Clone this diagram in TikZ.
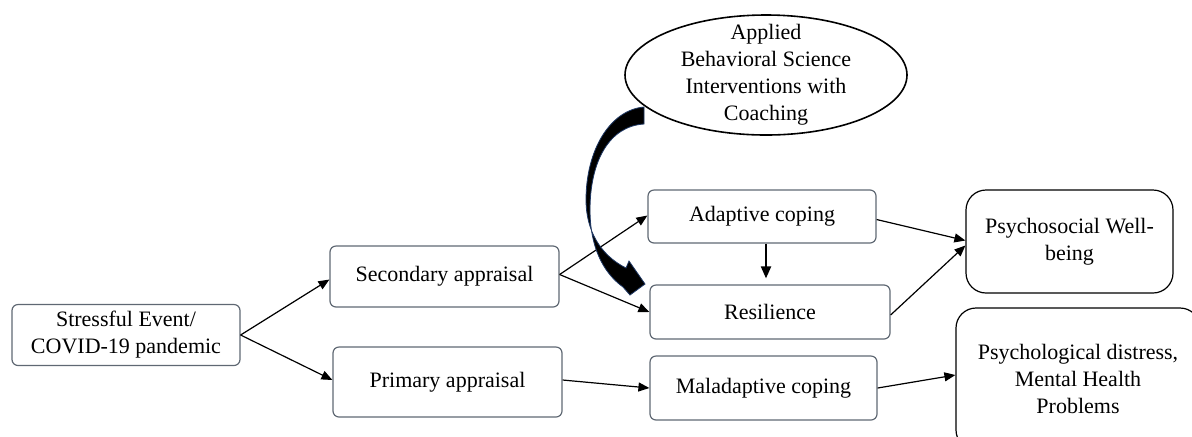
\documentclass[tikz,border=0pt]{standalone}
\usepackage{fontspec}
\setmainfont{Liberation Serif}
\usetikzlibrary{shapes.geometric,arrows.meta}
\definecolor{boxgray}{HTML}{5F6873}
\definecolor{navy}{HTML}{1F3864}
\tikzset{
  smallbox/.style={draw=boxgray, line width=0.6pt, rounded corners=3pt, inner sep=0pt, align=center},
  bigbox/.style={draw=black, line width=0.6pt, rounded corners=10pt, inner sep=0pt, align=center},
  conn/.style={line width=0.6pt, -{Triangle[length=5.5pt,width=4.5pt]}},
}
\begin{document}
\begin{tikzpicture}[x=0.5pt,y=-0.5pt,font=\fontsize{11}{13.5}\selectfont]
\useasboundingbox (0,0) rectangle (1192,436);
\clip (0,0) rectangle (1192,436);
% nodes
\node[smallbox, minimum width=114pt, minimum height=30.5pt] (stress) at (126,335) {Stressful Event/\\COVID-19 pandemic};
\node[smallbox, minimum width=114.5pt, minimum height=30.5pt] (second) at (444.5,276.5) {Secondary appraisal};
\node[smallbox, minimum width=114.5pt, minimum height=35pt] (primary) at (447.5,382) {Primary appraisal};
\node[smallbox, minimum width=114pt, minimum height=26.5pt] (adaptive) at (762,216.5) {Adaptive coping};
\node[smallbox, minimum width=120pt, minimum height=27pt] (resil) at (770,312) {Resilience};
\node[smallbox, minimum width=113.5pt, minimum height=32pt] (malad) at (763.5,388) {Maladaptive coping};
\node[bigbox, minimum width=103.5pt, minimum height=51.5pt] (psysoc) at (1069.5,241.5) {Psychosocial Well-\\being};
\node[bigbox, minimum width=122pt, minimum height=71pt] (distress) at (1078,379) {Psychological distress,\\Mental Health\\Problems};
\node[draw=black, line width=0.8pt, ellipse, minimum width=141pt, minimum height=60pt, inner sep=0pt] (absell) at (766,75) {};
\node[align=center, inner sep=0pt] (abstext) at (absell.center) {Applied\\Behavioral Science\\Interventions with\\Coaching};
% connectors
\draw[conn] (stress.east) -- ([yshift=-1.5pt]second.west);
\draw[conn] (stress.east) -- ([yshift=1pt]primary.west);
\draw[conn] ([yshift=1pt]second.east) -- ([yshift=0.5pt]adaptive.west);
\draw[conn] ([yshift=1pt]second.east) -- (resil.west);
\draw[conn] ([yshift=1pt]primary.east) -- (malad.west);
\draw[conn] (malad.east) -- ([yshift=2pt]distress.west);
\draw[conn] ([yshift=-1.5pt]adaptive.east) -- ([yshift=0.5pt]psysoc.west);
\draw[conn] ([yshift=-1.5pt]resil.east) -- ([yshift=-2pt]psysoc.west);
\coordinate (downstart) at ([xshift=2pt]adaptive.south);
\draw[line width=1pt, -{Triangle[length=6pt,width=5pt]}] (downstart) -- ([yshift=3pt]downstart |- resil.north);
% thick curved arrow from interventions to resilience
\filldraw[fill=black, draw=navy, line width=0.4pt]
  (644,107) .. controls (610,110) and (586,150) .. (586,200)
  .. controls (586,230) and (600,255) .. (626,268)
  -- (629,261) -- (645,284) -- (630,295) -- (623,287)
  .. controls (602,272) and (590,245) .. (590,210)
  .. controls (590,160) and (610,126) .. (644,124) -- cycle;
\end{tikzpicture}
\end{document}
